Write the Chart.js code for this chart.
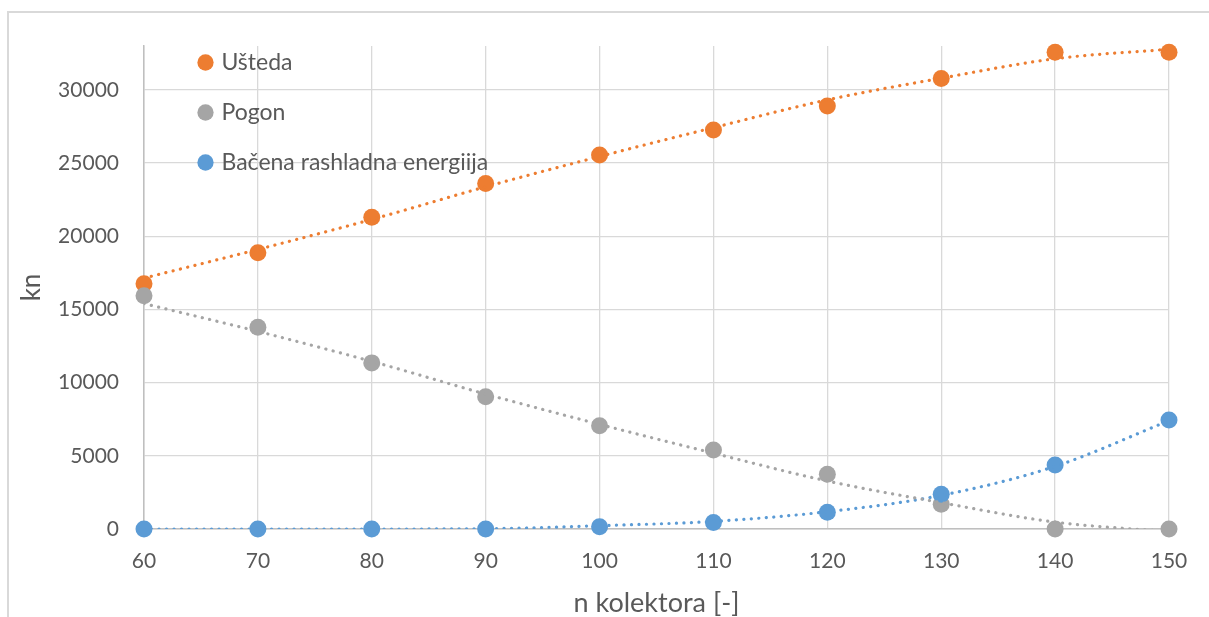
<!DOCTYPE html>
<html>
<head>
<meta charset="utf-8">
<script src="https://cdn.jsdelivr.net/npm/chart.js@4/dist/chart.umd.min.js"></script>
<style>
  body { margin: 0; background: #fff; overflow: hidden; }
  #frame { position: absolute; left: 7px; top: 11px; width: 1260px; height: 660px; border: 2px solid #d9d9d9; pointer-events: none; }
  canvas { position: absolute; left: 0; top: 0; }
</style>
</head>
<body>
<canvas id="chart" width="1209" height="617"></canvas>
<div id="frame"></div>
<script>
var kolektori = [60, 70, 80, 90, 100, 110, 120, 130, 140, 150]
var usteda = [16750, 18870, 21300, 23600, 25550, 27260, 28900, 30780, 32580, 32570]
var pogon = [15930, 13780, 11350, 9030, 7060, 5400, 3740, 1690, 0, 0]
var bacena = [0, 0, 0, 0, 150, 440, 1150, 2380, 4380, 7440]
// dotted trendlines at the same x values
var ustedaTrend = [17140, 19100, 21150, 23380, 25450, 27420, 29320, 30800, 32130, 32780]
var pogonTrend = [15400, 13500, 11450, 9220, 7150, 5180, 3280, 1800, 470, -180]
var bacenaTrend = [0, 0, 0, 20, 230, 520, 1180, 2300, 4280, 7400]
var yTicks = [0, 5000, 10000, 15000, 20000, 25000, 30000]

var orange = '#ED7D31', grey = '#A5A5A5', blue = '#5B9BD5'
var txt = '#595959'

function pts(ys) {
  return kolektori.map(function (x, i) { return { x: x, y: ys[i] } })
}

function trendSet(ys, color, order) {
  return {
    label: 'trend', data: pts(ys), showLine: true, pointRadius: 0, pointHoverRadius: 0,
    cubicInterpolationMode: 'monotone',
    borderColor: color, borderWidth: 3.2, borderDash: [0.1, 7.4], borderCapStyle: 'round',
    order: order, isTrend: true
  }
}

function pointSet(label, ys, color, order) {
  return {
    label: label, data: pts(ys), backgroundColor: color, borderColor: color,
    pointRadius: 8.5, pointHoverRadius: 8.5, pointBorderWidth: 0, pointStyle: 'circle',
    order: order, clip: false
  }
}

var legendPlace = {
  id: 'legendPlace',
  afterLayout: function (chart) {
    chart.legend.left = 174
    chart.legend.top = 24
  }
}

new Chart(document.getElementById('chart'), {
  type: 'scatter',
  data: {
    datasets: [
      pointSet('Ušteda', usteda, orange, 5),
      pointSet('Pogon', pogon, grey, 4),
      pointSet('Bačena rashladna energiija', bacena, blue, 3),
      trendSet(ustedaTrend, orange, 0),
      trendSet(pogonTrend, grey, 1),
      trendSet(bacenaTrend, blue, 2)
    ]
  },
  options: {
    responsive: false,
    animation: false,
    layout: { padding: { left: 10, right: 40, top: 46, bottom: 0 } },
    plugins: {
      tooltip: { enabled: false },
      legend: {
        position: 'chartArea',
        align: 'start',
        labels: {
          usePointStyle: true, pointStyle: 'circle', boxWidth: 9, boxHeight: 11.5, padding: 27,
          color: txt, font: { family: 'Lato', size: 23 },
          filter: function (item, data) { return !data.datasets[item.datasetIndex].isTrend },
          sort: function (a, b) { return a.datasetIndex - b.datasetIndex }
        }
      }
    },
    scales: {
      x: {
        type: 'linear', min: 60, max: 150,
        afterFit: function (scale) { scale.height = 88 },
        ticks: { stepSize: 10, color: txt, font: { family: 'Lato', size: 21 }, padding: 20 },
        grid: { color: '#d9d9d9', lineWidth: 1.3, drawTicks: false },
        border: { color: '#bfbfbf', width: 1.5 },
        title: { display: true, text: 'n kolektora [-]', color: txt, font: { family: 'Lato', size: 27, lineHeight: 1 }, padding: { top: 0, bottom: 0 } }
      },
      y: {
        min: 0, max: 33000,
        afterFit: function (scale) { scale.width = 134 },
        afterBuildTicks: function (scale) {
          scale.ticks = yTicks.map(function (v) { return { value: v } })
        },
        ticks: { color: txt, font: { family: 'Lato', size: 21 }, padding: 25, callback: function (v) { return String(v) } },
        grid: { color: '#d9d9d9', lineWidth: 1.3, drawTicks: false },
        border: { color: '#bfbfbf', width: 1.5 },
        title: { display: true, text: 'kn', color: txt, font: { family: 'Lato', size: 26, lineHeight: 1 }, padding: { top: 9, bottom: 0 } }
      }
    }
  },
  plugins: [legendPlace]
})
</script>
</body>
</html>
